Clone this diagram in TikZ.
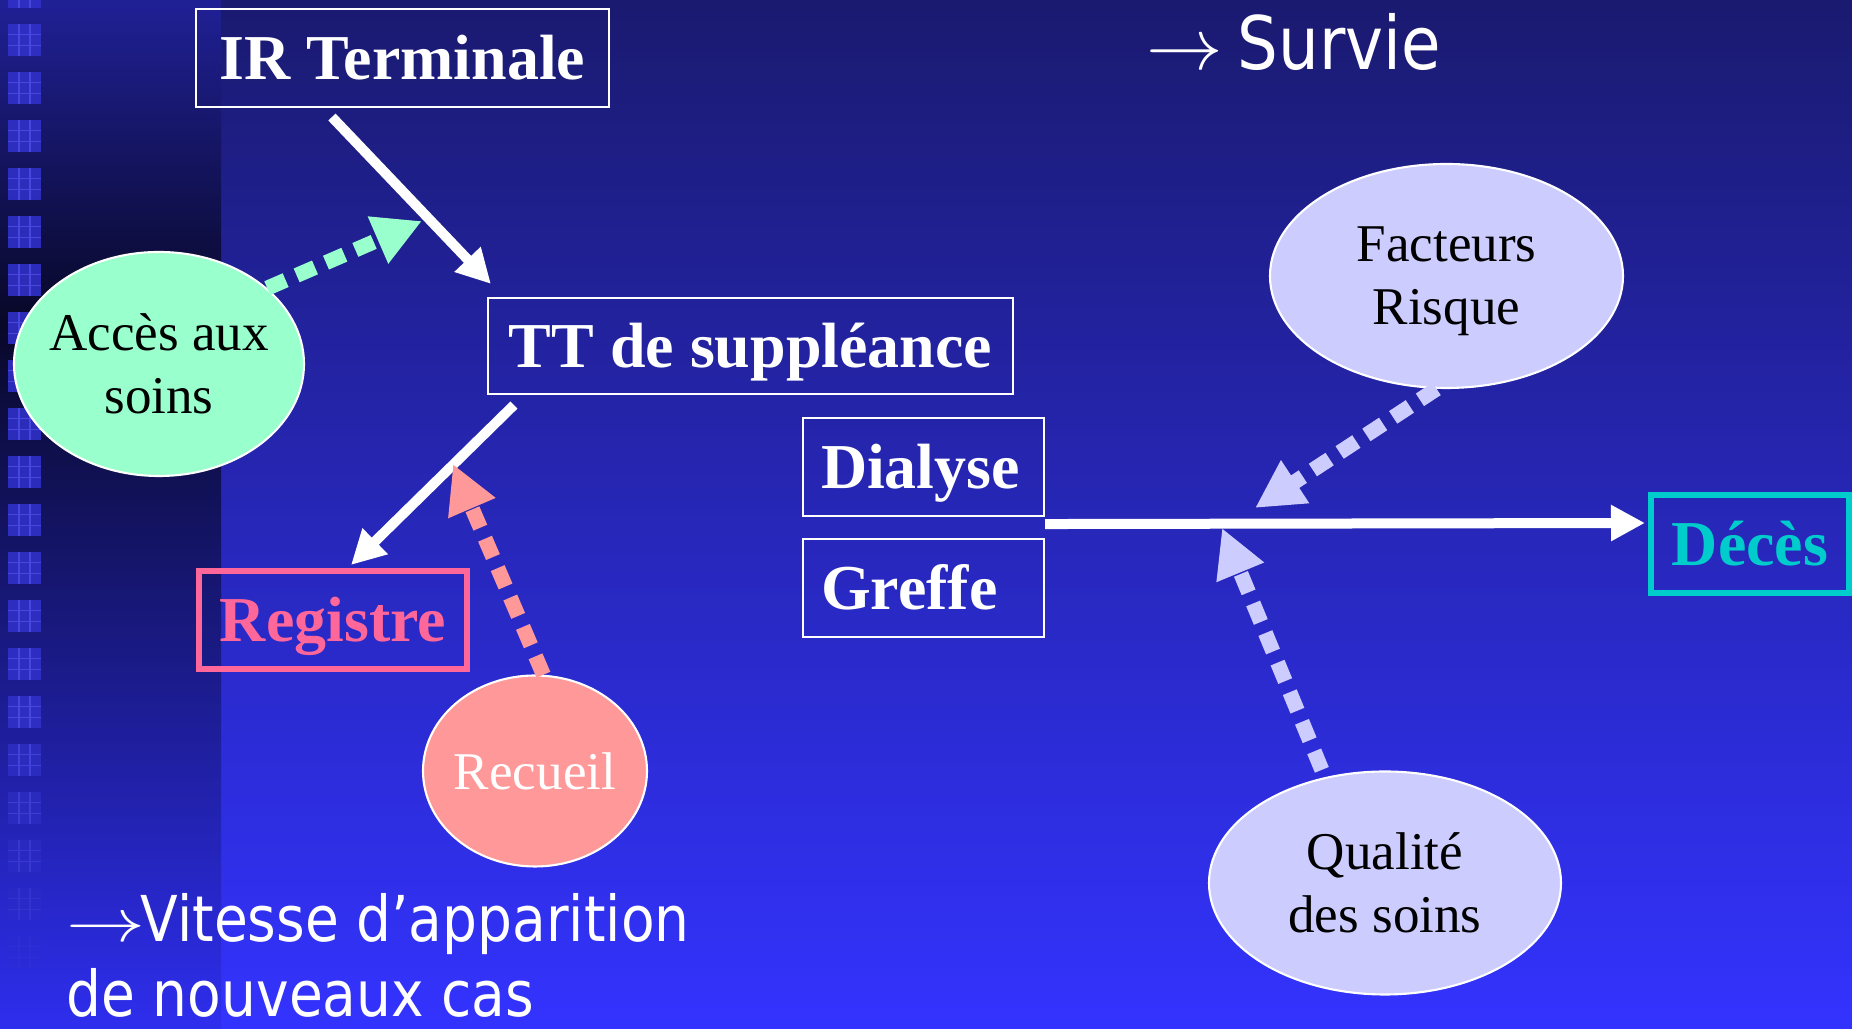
\documentclass[tikz,border=0pt]{standalone}
\usepackage{fontspec}
\setmainfont{Liberation Serif}
\newfontfamily\slidesans[FakeStretch=0.87]{DejaVu Sans}
\usetikzlibrary{arrows.meta, shapes.geometric}
\definecolor{bgtop}{RGB}{26,26,112}
\definecolor{bgmid}{RGB}{40,40,195}
\definecolor{bgbot}{RGB}{51,51,255}
\definecolor{striptop}{RGB}{32,32,150}
\definecolor{stripdark}{RGB}{8,8,40}
\definecolor{stripbot}{RGB}{46,46,238}
\definecolor{tilecol}{RGB}{48,48,200}
\definecolor{tileline}{RGB}{74,74,228}
\definecolor{mint}{RGB}{153,255,204}
\definecolor{salmon}{RGB}{255,153,153}
\definecolor{lavender}{RGB}{204,204,255}
\definecolor{regpink}{RGB}{255,102,153}
\definecolor{decescyan}{RGB}{0,204,204}
\tikzset{
  box/.style = {draw = white, line width = 0.6pt, text = white, inner sep = 0pt,
    font = \fontsize{18.2}{21}\selectfont\bfseries, text height = 0.43cm, text depth = 0cm},
  bubble/.style = {ellipse, draw = white, line width = 0.6pt, inner xsep = -0.3cm, inner ysep = 0pt,
    align = center, text depth = 0pt, font = \fontsize{15.1}{17.9}\selectfont},
  fatarrow/.style = {draw = white, line width = 0.1cm, -{Triangle[length = 0.34cm, width = 0.34cm]}},
  dotarrow/.style = {line width = 0.15cm, dash pattern = on 0.2cm off 0.12cm,
    -{Triangle[length = 0.48cm, width = 0.48cm]}},
  slidetext/.style = {text = white, anchor = base west, inner sep = 0pt}
}

\begin{document}
\begin{tikzpicture}[x = 1cm, y = -1cm]
\useasboundingbox (0,0) rectangle (18.52,10.29);
\clip (0,0) rectangle (18.52,10.29);
% background
\shade[top color = bgtop, middle color = bgmid, bottom color = bgbot] (0,0) rectangle (18.52,10.29);
\shade[top color = striptop, bottom color = stripdark] (0,0) rectangle (2.21,3.21);
\shade[top color = stripdark, bottom color = stripbot] (0,3.2) rectangle (2.21,10.29);
\foreach \k in {-1,...,19} {
  \pgfmathsetmacro\ty{0.24+0.48*\k}
  \pgfmathsetmacro\op{min(0.9, max(0, (20-\k)*0.15))}
  \fill[tilecol, opacity = \op] (0.08,\ty) rectangle +(0.33,0.32);
  \draw[tileline, opacity = \op, line width = 0.3pt] (0.19,\ty) -- +(0,0.32) (0.30,\ty) -- +(0,0.32)
    (0.08,\ty+0.107) -- +(0.33,0) (0.08,\ty+0.213) -- +(0.33,0);
}

% boxes
\node[box, minimum width = 4.13cm, minimum height = 0.98cm] (irt) at (4.025,0.58) {IR Terminale};
\node[box, minimum width = 5.25cm, minimum height = 0.96cm] (tt) at (7.505,3.46) {TT de suppléance};
\node[box, text width = 2.05cm, align = left, inner xsep = 0.18cm, minimum height = 0.98cm] (dialyse) at (9.235,4.67) {Dialyse};
\node[box, text width = 2.05cm, align = left, inner xsep = 0.18cm, minimum height = 0.98cm] (greffe) at (9.235,5.88) {Greffe};
\node[box, draw = regpink, text = regpink, line width = 0.06cm, minimum width = 2.68cm, minimum height = 0.98cm] (registre) at (3.33,6.20) {Registre};
\node[box, draw = decescyan, text = decescyan, line width = 0.06cm, minimum width = 1.98cm, minimum height = 0.98cm] (deces) at (17.50,5.44) {Décès};

% bubbles
\node[bubble, fill = mint, minimum width = 2.90cm, minimum height = 2.24cm] (acces) at (1.59,3.64) {Accès aux\\soins};
\node[bubble, fill = salmon, text = white, minimum width = 2.24cm, minimum height = 1.91cm] (recueil) at (5.35,7.71) {Recueil};
\node[bubble, fill = lavender, minimum width = 3.53cm, minimum height = 2.24cm] (facteurs) at (14.465,2.76) {Facteurs\\Risque};
\node[bubble, fill = lavender, minimum width = 3.52cm, minimum height = 2.23cm] (qualite) at (13.85,8.83) {Qualité\\des soins};

% solid arrows
\draw[fatarrow] ([xshift = 1.37cm, yshift = -0.09cm]irt.south west) -- ([xshift = 0.04cm, yshift = 0.13cm]tt.north west);
\draw[fatarrow] ([xshift = 0.27cm, yshift = -0.10cm]tt.south west) -- ([xshift = 0.18cm, yshift = 0.03cm]registre.north);
\draw[fatarrow] ([yshift = -0.07cm]dialyse.south east) -- ([xshift = -0.03cm, yshift = 0.21cm]deces.west);

% dotted arrows
\coordinate (accesend) at (4.22,2.21);
\coordinate (recueilend) at (4.53,4.64);
\coordinate (facteursend) at (12.55,5.08);
\coordinate (qualiteend) at (12.22,5.28);
\draw[dotarrow, mint] (acces.35) -- (accesend);
\draw[dotarrow, salmon] (recueil.85) -- (recueilend);
\draw[dotarrow, lavender] (facteurs.265) -- (facteursend);
\draw[dotarrow, lavender] ([yshift = 0.08cm]qualite.121) -- (qualiteend);

% titles
\node[slidetext, font = \slidesans\fontsize{21}{25}\selectfont] (survie) at (11.46,0.70) {\scalebox{1.05}[1]{$\rightarrow$}\hspace{-0.06cm} Survie};
\node[slidetext, align = left, text depth = 0pt, font = \slidesans\fontsize{18}{21.5}\selectfont] (vitesse) at (0.66,10.17) {\scalebox{1.3}[1]{$\rightarrow$}\hspace{-0.05cm}Vitesse d’apparition\\de nouveaux cas};
\end{tikzpicture}
\end{document}
